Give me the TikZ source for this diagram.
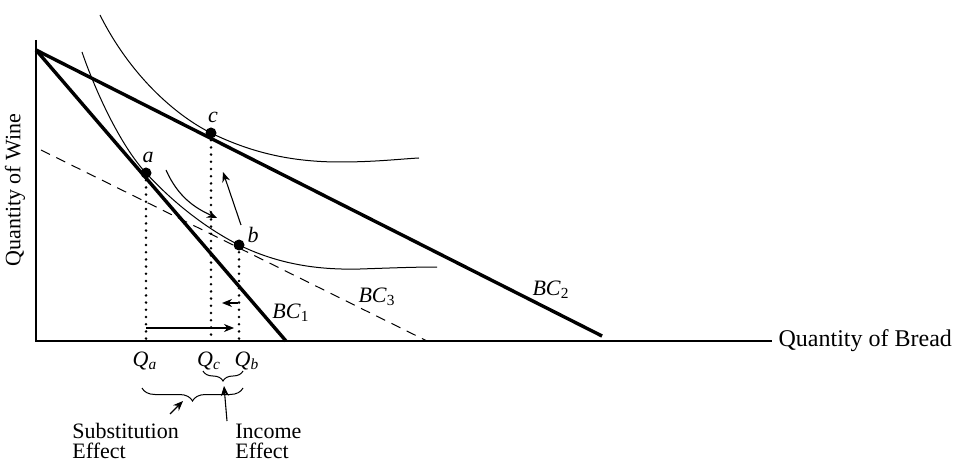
\documentclass[tikz,border=0pt]{standalone}
\usepackage{fontspec}
\setmainfont{Liberation Serif}
\usetikzlibrary{arrows.meta, decorations.pathreplacing}

\begin{document}
\begin{tikzpicture}[x=0.5pt, y=-0.5pt,
        >={Stealth[length=5pt, width=4pt]},
        font=\fontsize{11}{13}\selectfont,
        budget/.style={line width=1.7pt},
        indiff/.style={line width=0.5pt},
        guide/.style={line width=1.4pt, line cap=round, dash pattern=on 0pt off 3.6pt},
        movearrow/.style={->, line width=0.55pt},
        effect/.style={align=left, anchor=base west, inner sep=0pt, font=\fontsize{11}{10}\selectfont},
        dotpt/.style={circle, fill, inner sep=0pt, minimum size=5.5pt}]
        \useasboundingbox (0,0) rectangle (961,464);

        % axes
        \coordinate (O) at (36,341);
        \coordinate (ytop) at (36,40);
        \coordinate (xend) at (772,341);
        \draw[line width=0.6pt] (ytop) -- (O) -- (xend) node[right, inner sep=3pt, font=\fontsize{12}{14}\selectfont]{Quantity of Bread};
        \node[rotate=90] (ylab) at (15,190) {Quantity of Wine};

        % tangency points
        \coordinate (a) at (146,173);
        \coordinate (b) at (239,245);
        \coordinate (c) at (211,133);

        % BC1 and BC2 (pivot at the intercept)
        \coordinate (int) at (36,50);
        \draw[budget] (int) -- (286,341);
        \draw[budget] (int) -- (602,336);

        % BC3 (compensated)
        \draw[dashed, line width=0.5pt, dash pattern=on 5pt off 3.5pt] (41,150) -- (427,341);

        % lower indifference curve through a and b
        \draw[indiff] (82,52) .. controls (95,90) and (120,145) .. (a)
              .. controls (180,210) and (215,233) .. (b)
              .. controls (280,265) and (320,270) .. (360,269)
              .. controls (390,268) and (415,267) .. (437,267);

        % upper indifference curve through c
        \draw[indiff] (100,15) .. controls (130,75) and (175,115) .. (c)
              .. controls (250,152) and (290,162) .. (340,162)
              .. controls (375,162) and (400,159) .. (419,158);

        % dotted drop lines
        \draw[guide] (a) -- (a |- O);
        \draw[guide] (c) -- (c |- O);
        \draw[guide] (b) -- (b |- O);

        \node[dotpt] (pa) at (a) {};
        \node[dotpt] (pb) at (b) {};
        \node[dotpt] (pc) at (c) {};
        \node (la) at (148,157) {\textit{a}};
        \node (lb) at (253,235) {\textit{b}};
        \node (lc) at (213,117) {\textit{c}};

        % budget labels
        \node (bc1) at (291,313) {\textit{BC}\textsubscript{1}};
        \node (bc2) at (551,290) {\textit{BC}\textsubscript{2}};
        \node (bc3) at (377,297) {\textit{BC}\textsubscript{3}};

        % movements
        \draw[movearrow] (166,170) .. controls (178,197) and (195,208) .. (217,218);
        \draw[movearrow] (241,225) -- (223,172);
        \draw[movearrow] (146,328) -- (234,328);
        \draw[movearrow] (238,303) -- (222,303);

        % quantities
        \node (qa) at (145,361) {\textit{Q}\textsubscript{\textit{a}}};
        \node (qc) at (209,361) {\textit{Q}\textsubscript{\textit{c}}};
        \node (qb) at (247,361) {\textit{Q}\textsubscript{\textit{b}}};

        % braces
        \draw[line width=0.5pt, decorate, decoration={brace, mirror, amplitude=5pt}] (203,371) -- (243,371);
        \draw[line width=0.5pt, decorate, decoration={brace, mirror, amplitude=6.5pt}] (142,388) -- (243,388);

        % effect labels
        \node[effect] (sub) at (72,458) {Substitution\\Effect};
        \node[effect] (inc) at (235,458) {Income\\Effect};
        \coordinate (subtip) at (183,401);
        \coordinate (inctip) at (224,386);
        \draw[movearrow] (170,414) -- (subtip);
        \draw[movearrow] (227,421) -- (inctip);
\end{tikzpicture}
\end{document}
